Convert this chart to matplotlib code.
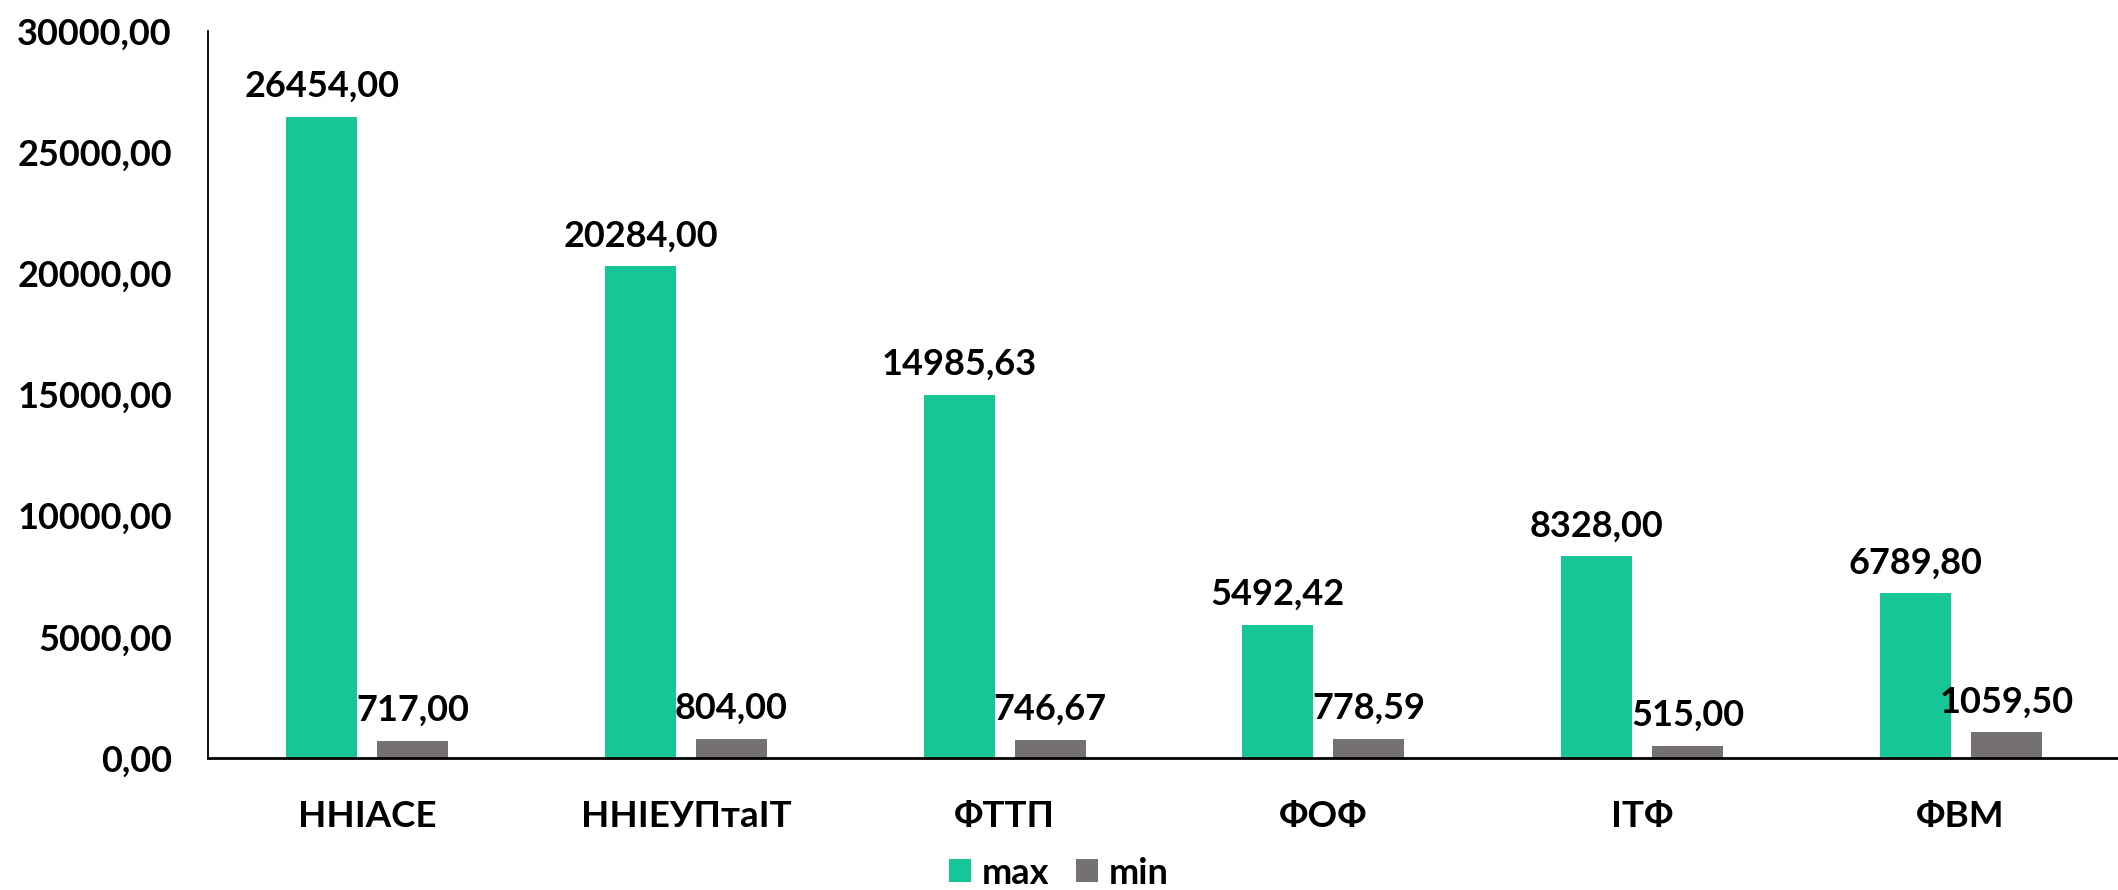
import matplotlib
matplotlib.use("Agg")
import matplotlib.pyplot as plt
import numpy as np

# дані з діаграми
categories = ["ННІАСЕ", "ННІЕУПтаІТ", "ФТТП", "ФОФ", "ІТФ", "ФВМ"]
max_vals = [26454.00, 20284.00, 14985.63, 5492.42, 8328.00, 6789.80]
min_vals = [717.00, 804.00, 746.67, 778.59, 515.00, 1059.50]
y_ticks = [0, 5000, 10000, 15000, 20000, 25000, 30000]

green = "#17C697"
grey = "#767171"
fs = 26

plt.rcParams['font.family'] = ['Lato', 'DejaVu Sans']
plt.rcParams['font.weight'] = 'bold'

def fmt(v):
    return f"{v:.2f}".replace(".", ",")

fig = plt.figure(figsize=(21.18, 8.90), dpi=100)
ax = fig.add_axes([208/2118, 1 - 758/890, (2120 - 208)/2118, (758 - 31)/890])

x = np.arange(len(categories))
w = 0.223
off = w/2 + 0.0314
b1 = ax.bar(x - off, max_vals, w, color=green, label="max")
b2 = ax.bar(x + off, min_vals, w, color=grey, label="min")

ax.bar_label(b1, labels=[fmt(v) for v in max_vals], padding=10, fontsize=fs, fontweight='bold')
ax.bar_label(b2, labels=[fmt(v) for v in min_vals], padding=10, fontsize=fs, fontweight='bold')

ax.set_xlim(-0.5, len(categories) - 0.5)
ax.set_ylim(0, 30000)
ax.set_yticks(y_ticks)
ax.set_yticklabels([fmt(v) for v in y_ticks], fontsize=fs, fontweight='bold')
ax.set_xticks(x)
ax.set_xticklabels(categories, fontsize=fs + 0.5, fontweight='bold')
ax.tick_params(axis='y', length=0, pad=26)
ax.tick_params(axis='x', length=0, pad=30)

for s in ["top", "right"]:
    ax.spines[s].set_visible(False)
ax.spines["left"].set_linewidth(1.3)
ax.spines["bottom"].set_linewidth(2)

fig.legend(loc='center', bbox_to_anchor=(0.5, 0.019), ncol=2, frameon=False,
           fontsize=fs, handlelength=0.6, handleheight=0.6,
           handletextpad=0.3, columnspacing=0.75, borderpad=0)

fig.savefig("out.png", dpi=100)
